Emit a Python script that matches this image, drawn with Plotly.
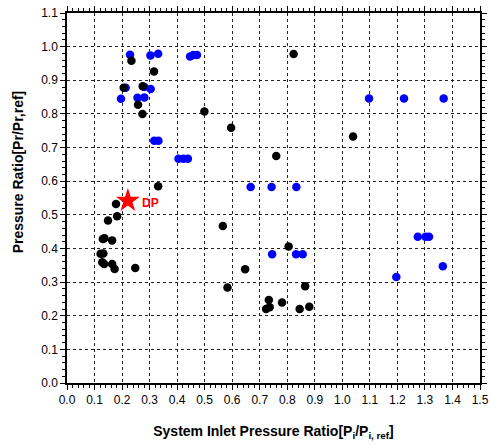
import plotly.graph_objects as go

# Black series (measured)
black_x = [0.823, 0.234, 0.316, 0.206, 0.275, 0.258, 0.274, 0.499, 0.596, 0.760, 0.331,
           1.039, 0.178, 0.182, 0.149, 0.130, 0.136, 0.164, 0.122, 0.132, 0.128, 0.135,
           0.164, 0.173, 0.248, 0.566, 0.647, 0.583, 0.733, 0.736, 0.723, 0.781, 0.805,
           0.865, 0.845, 0.880]
black_y = [0.978, 0.958, 0.926, 0.878, 0.882, 0.827, 0.800, 0.807, 0.759, 0.675, 0.585,
           0.733, 0.532, 0.496, 0.483, 0.428, 0.430, 0.424, 0.384, 0.385, 0.359, 0.354,
           0.354, 0.339, 0.342, 0.467, 0.338, 0.284, 0.247, 0.225, 0.220, 0.239, 0.406,
           0.288, 0.220, 0.227]

# Blue series
blue_x = [0.229, 0.303, 0.331, 0.447, 0.459, 0.472,
          0.213, 0.281, 0.304,
          0.196, 0.256, 0.281,
          0.317, 0.332,
          0.405, 0.423, 0.439,
          0.667, 0.743, 0.833,
          1.097, 1.224, 1.368,
          0.745, 0.832, 0.856,
          1.274, 1.302, 1.315,
          1.365, 1.196]
blue_y = [0.976, 0.974, 0.979, 0.971, 0.975, 0.975,
          0.878, 0.880, 0.874,
          0.845, 0.848, 0.849,
          0.720, 0.720,
          0.667, 0.667, 0.667,
          0.583, 0.583, 0.583,
          0.846, 0.846, 0.846,
          0.383, 0.383, 0.383,
          0.435, 0.435, 0.435,
          0.347, 0.315]

# Design point
dp_x = [0.221]
dp_y = [0.542]
dp_label = "DP"

x_ticks = [round(i * 0.1, 1) for i in range(16)]
y_ticks = [round(i * 0.1, 1) for i in range(12)]

fig = go.Figure()
fig.add_trace(go.Scatter(x=blue_x, y=blue_y, mode="markers",
                         marker=dict(color="#0000ff", size=8.5), showlegend=False))
fig.add_trace(go.Scatter(x=black_x, y=black_y, mode="markers",
                         marker=dict(color="#000000", size=8.5), showlegend=False))
fig.add_trace(go.Scatter(x=dp_x, y=dp_y, mode="markers",
                         marker=dict(color="#ff0000", size=18, symbol="star"), showlegend=False))

fig.add_annotation(x=dp_x[0] + 0.044, y=dp_y[0] - 0.008, text="<b>" + dp_label + "</b>",
                   showarrow=False, xanchor="left", yanchor="middle",
                   font=dict(color="#ff0000", size=12, family="Liberation Sans"))

axis_common = dict(
    showline=True, linecolor="black", linewidth=1.5, mirror="allticks",
    ticks="outside", ticklen=5, tickwidth=1, tickcolor="black",
    showgrid=True, gridcolor="#222222", griddash="dot", gridwidth=1,
    zeroline=False, automargin=False,
    tickfont=dict(family="Liberation Sans", size=12, color="black"),
)

fig.update_xaxes(range=[0, 1.5], tickvals=x_ticks,
                 ticktext=[f"{v:.1f}" for v in x_ticks],
                 minor=dict(ticks="outside", dtick=0.02, ticklen=3, tickcolor="black", showgrid=False),
                 title=dict(text="<b>System Inlet Pressure Ratio[P<sub>i</sub>/P<sub>i, ref</sub>]</b>",
                            font=dict(family="Liberation Sans Narrow, Liberation Sans", size=14, color="black"),
                            standoff=20),
                 **axis_common)
fig.update_yaxes(range=[0, 1.1], tickvals=y_ticks,
                 ticktext=[f"{v:.1f}" for v in y_ticks],
                 minor=dict(ticks="outside", dtick=0.02, ticklen=3, tickcolor="black", showgrid=False),
                 **axis_common)

fig.add_annotation(xref="paper", yref="paper", x=-0.118, y=0.57, textangle=-90,
                   text="<b>Pressure Ratio[Pr/Pr,ref]</b>", showarrow=False,
                   xanchor="center", yanchor="middle",
                   font=dict(family="Liberation Sans", size=14, color="black"))

fig.update_layout(width=491, height=446,
                  margin=dict(l=67, r=11, t=13, b=63),
                  plot_bgcolor="white", paper_bgcolor="white")

fig.write_html("out.html", config={"displayModeBar": False},
               post_script="document.body.style.margin='0';")
